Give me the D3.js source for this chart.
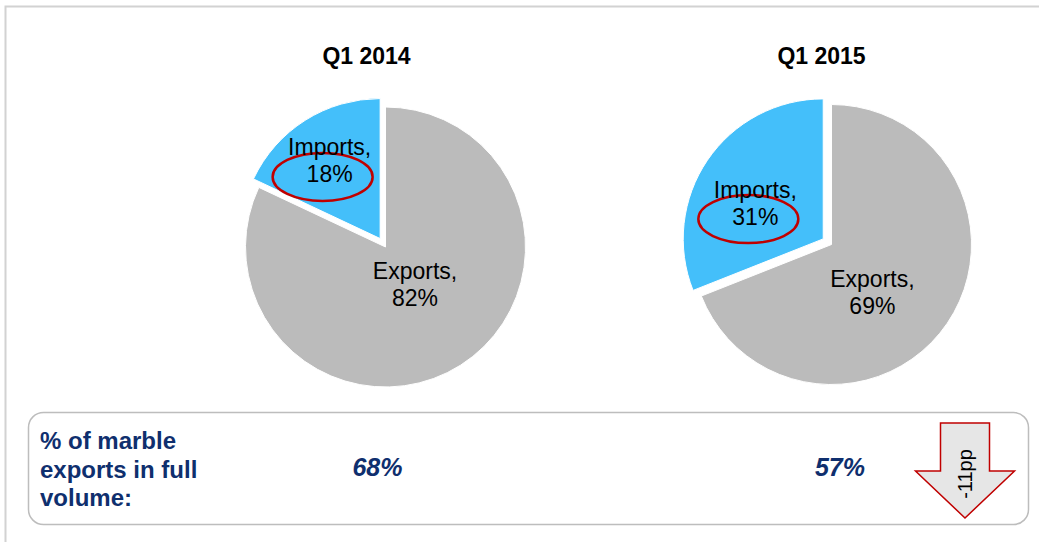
<!DOCTYPE html>
<html>
<head>
<meta charset="utf-8">
<script src="https://cdn.jsdelivr.net/npm/d3@7/dist/d3.min.js"></script>
<style>
  html, body { margin: 0; padding: 0; background: #ffffff; }
  svg { display: block; font-family: "Liberation Sans", Arial, sans-serif; }
</style>
</head>
<body>
<svg id="chart" width="1039" height="542"></svg>
<script>
// Share of marble trade volume by direction, per quarter
const periods = ["Q1 2014", "Q1 2015"];
const categories = ["Exports", "Imports"];
const exportsShare = [82, 69];
const importsShare = [18, 31];
const fullVolumeShare = [68, 57];
const summaryLabel = ["% of marble", "exports in full", "volume:"];

// Layout
const W = 1039, H = 542;
const pieCenters = [[385.5, 247], [831.5, 244.5]];
const radius = 140;
const explode = 10;
const labelRadius = 0.5;
// per-pie [exports, imports] label nudges
const labelNudge = [
  [[-8, -14.5], [-13, -11]],
  [[-17, 16], [-10, 11]]
];
const colors = { Exports: "#bbbbbb", Imports: "#44bffa" };
const navy = "#0f2f6e";

const svg = d3.select("#chart");

// outer frame (top and left edges visible)
svg.append("rect")
  .attr("x", 5.5).attr("y", 6.5)
  .attr("width", 1100).attr("height", 600)
  .attr("fill", "none")
  .attr("stroke", "#d2d2d2")
  .attr("stroke-width", 2);

const pie = d3.pie().sort(null).value(d => d.value);
const arc = d3.arc().innerRadius(0).outerRadius(radius);
const labelArc = d3.arc().innerRadius(radius * labelRadius).outerRadius(radius * labelRadius);

periods.forEach((period, i) => {
  const [cx, cy] = pieCenters[i];
  const data = [
    { key: categories[0], value: exportsShare[i] },
    { key: categories[1], value: importsShare[i] }
  ];
  const arcs = pie(data);
  const g = svg.append("g").attr("transform", `translate(${cx},${cy})`);

  // title
  svg.append("text")
    .attr("x", cx - 19 + i * 9).attr("y", 64)
    .attr("text-anchor", "middle")
    .attr("font-size", 23)
    .attr("font-weight", "bold")
    .attr("fill", "#000")
    .text(period);

  arcs.forEach((a, j) => {
    const mid = (a.startAngle + a.endAngle) / 2;
    const off = a.data.key === "Imports" ? explode : 0;
    const ox = Math.sin(mid) * off, oy = -Math.cos(mid) * off;
    const sg = g.append("g").attr("transform", `translate(${ox},${oy})`);
    sg.append("path")
      .attr("d", arc(a))
      .attr("fill", colors[a.data.key])
      .attr("stroke", "#ffffff")
      .attr("stroke-width", 1);

    const [lx0, ly0] = labelArc.centroid(a);
    const lx = lx0 + labelNudge[i][j][0];
    const ly = ly0 + labelNudge[i][j][1];

    if (a.data.key === "Imports") {
      sg.append("ellipse")
        .attr("cx", lx - 7).attr("cy", ly + 8.5)
        .attr("rx", 50).attr("ry", 24)
        .attr("fill", "none")
        .attr("stroke", "#c00000")
        .attr("stroke-width", 2.5);
    }

    const t = sg.append("text")
      .attr("text-anchor", "middle")
      .attr("font-size", 23)
      .attr("fill", "#000");
    t.append("tspan").attr("x", lx).attr("y", ly - 13).text(a.data.key + ",");
    t.append("tspan").attr("x", lx).attr("y", ly + 14).text(a.data.value + "%");
  });
});

// summary box
const box = { x: 28.5, y: 412.5, w: 1000, h: 112, r: 15 };
svg.append("rect")
  .attr("x", box.x).attr("y", box.y)
  .attr("width", box.w).attr("height", box.h)
  .attr("rx", box.r).attr("ry", box.r)
  .attr("fill", "#ffffff")
  .attr("stroke", "#bdbdbd")
  .attr("stroke-width", 1.5);

const st = svg.append("text")
  .attr("font-size", 24)
  .attr("font-weight", "bold")
  .attr("fill", navy);
summaryLabel.forEach((line, k) => {
  st.append("tspan").attr("x", 40).attr("y", 449 + k * 28.5).text(line);
});

const valueX = [377.5, 840];
fullVolumeShare.forEach((v, i) => {
  svg.append("text")
    .attr("x", valueX[i]).attr("y", 476)
    .attr("text-anchor", "middle")
    .attr("font-size", 25)
    .attr("font-weight", "bold")
    .attr("font-style", "italic")
    .attr("fill", navy)
    .text(v + "%");
});

// change arrow
const delta = fullVolumeShare[1] - fullVolumeShare[0];
const arrowX = 965, arrowTop = 423, arrowShoulder = 471, arrowTip = 518;
const bodyHalf = 24.5, headHalf = 49.5;
const arrowPts = [
  [arrowX - bodyHalf, arrowTop], [arrowX + bodyHalf, arrowTop], [arrowX + bodyHalf, arrowShoulder],
  [arrowX + headHalf, arrowShoulder], [arrowX, arrowTip], [arrowX - headHalf, arrowShoulder],
  [arrowX - bodyHalf, arrowShoulder]
];
svg.append("path")
  .attr("d", d3.line()(arrowPts) + "Z")
  .attr("fill", "#e6e6e6")
  .attr("stroke", "#c00000")
  .attr("stroke-width", 1.5)
  .attr("stroke-linejoin", "miter");

svg.append("text")
  .attr("transform", `translate(${arrowX + 7},${474}) rotate(-90)`)
  .attr("text-anchor", "middle")
  .attr("font-size", 20)
  .attr("fill", "#000")
  .text((delta > 0 ? "+" : "") + delta + "pp");
</script>
</body>
</html>
